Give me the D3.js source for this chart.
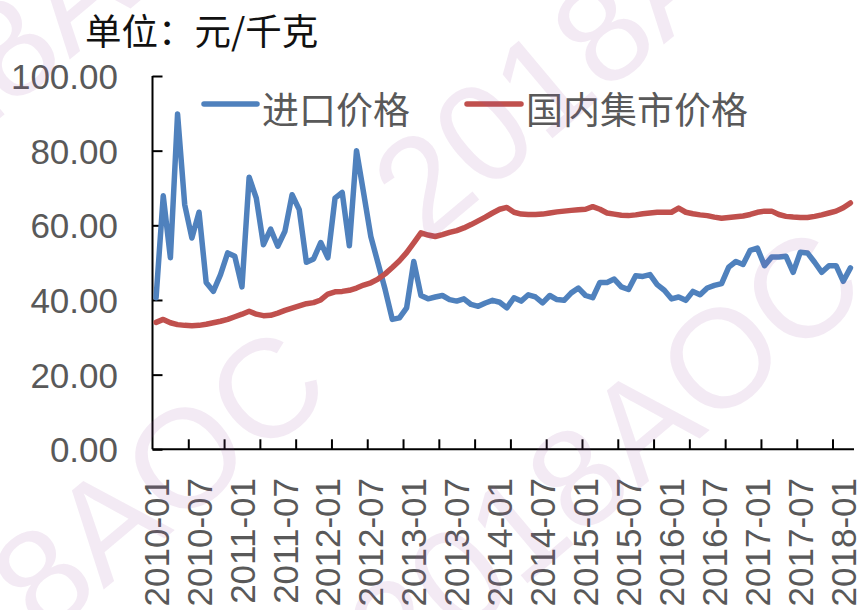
<!DOCTYPE html>
<html>
<head>
<meta charset="utf-8">
<script src="https://cdn.jsdelivr.net/npm/d3@7"></script>
<style>
  html, body { margin: 0; padding: 0; background: #fff; }
  svg { display: block; }
  text { font-family: "Liberation Sans", Arial, sans-serif; }
  .cjk { font-family: "Noto Sans CJK SC", "Noto Sans", sans-serif; }
</style>
</head>
<body>
<svg id="chart" width="861" height="610"></svg>
<script>
// month categories 2010-01 .. 2018-02
const months = d3.timeMonth.range(new Date(2010, 0, 1), new Date(2018, 2, 1)).map(d3.timeFormat("%Y-%m"));

const tickLabels = ["2010-01", "2010-07", "2011-01", "2011-07", "2012-01", "2012-07", "2013-01", "2013-07",
  "2014-01", "2014-07", "2015-01", "2015-07", "2016-01", "2016-07", "2017-01", "2017-07", "2018-01"];

const yTicks = [0, 20, 40, 60, 80, 100];

// 进口价格
const importPrice = [
  40.6, 67.9, 51.3, 89.8, 65.5, 56.6, 63.5, 44.7, 42.3, 46.8, 52.6, 51.7,
  43.5, 72.9, 67.3, 54.8, 59.0, 54.4, 58.4, 68.2, 64.2, 50.1, 51.0, 55.4,
  51.3, 67.3, 68.8, 54.5, 80.0, 68.6, 57.0, 49.9, 42.8, 34.8, 35.2, 37.9,
  50.3, 41.2, 40.3, 40.8, 41.2, 40.1, 39.7, 40.3, 38.8, 38.3, 39.2, 39.9,
  39.4, 37.9, 40.6, 39.7, 41.4, 40.8, 39.2, 41.2, 40.1, 39.9, 41.9, 43.2,
  41.2, 40.6, 44.7, 44.7, 45.6, 43.5, 42.8, 46.5, 46.3, 46.8, 44.1, 42.6,
  40.3, 40.8, 39.9, 42.3, 41.4, 43.2, 43.9, 44.4, 48.8, 50.3, 49.5, 53.3,
  53.9, 49.2, 51.5, 51.5, 51.7, 47.4, 52.8, 52.6, 50.1, 47.4, 49.2, 49.2,
  45.0, 48.6
];

// 国内集市价格
const domesticPrice = [
  34.0, 34.8, 33.9, 33.4, 33.2, 33.1, 33.2, 33.5, 33.9, 34.3, 34.8, 35.5,
  36.2, 37.0, 36.2, 35.8, 35.9, 36.5, 37.2, 37.8, 38.4, 39.0, 39.3, 40.0,
  41.6, 42.2, 42.3, 42.6, 43.2, 44.0, 44.6, 45.6, 47.0, 48.7, 50.5, 52.7,
  55.3, 58.0, 57.4, 57.0, 57.5, 58.1, 58.6, 59.3, 60.2, 61.2, 62.2, 63.3,
  64.3, 64.8, 63.5, 63.0, 62.9, 62.9, 63.0, 63.3, 63.6, 63.8, 64.0, 64.2,
  64.3, 65.0, 64.3, 63.3, 63.0, 62.7, 62.6, 62.8, 63.1, 63.3, 63.5, 63.5,
  63.5, 64.6, 63.5, 63.1, 62.8, 62.6, 62.2, 61.9, 62.1, 62.3, 62.5, 62.9,
  63.5, 63.8, 63.8, 62.9, 62.4, 62.2, 62.1, 62.1, 62.4, 62.8, 63.3, 63.8,
  64.7, 66.0
];

const seriesNames = ["进口价格", "国内集市价格"];
const seriesColors = ["#4F81BD", "#C0504D"];

const svg = d3.select("#chart");

const plotLeft = 152.5, plotRight = 854, plotTop = 76, plotBottom = 449.3;

const x = d3.scaleBand().domain(months).range([plotLeft, plotRight]).padding(0);
const xIdx = d3.scaleLinear().domain([0, months.length]).range([plotLeft, plotRight]);
const y = d3.scaleLinear().domain([0, 100]).range([plotBottom, plotTop]);

// title
svg.append("text")
  .attr("class", "cjk")
  .attr("x", 85)
  .attr("y", 45)
  .attr("font-size", 36.5)
  .attr("fill", "#111")
  .text("单位：元/千克");

// y axis
const yAxis = svg.append("g")
  .attr("transform", `translate(${plotLeft},0)`)
  .call(d3.axisLeft(y).tickValues(yTicks).tickSize(-10).tickPadding(34.5)
    .tickFormat(d3.format(".2f")));
yAxis.select(".domain").attr("stroke", "#000").attr("stroke-width", 2).attr("d", `M0,${plotTop}V${plotBottom}`);
yAxis.selectAll(".tick line").attr("stroke", "#000").attr("stroke-width", 2);
yAxis.selectAll(".tick text")
  .attr("font-size", 35)
  .attr("fill", "#595959")
  .attr("font-family", "Liberation Sans, Arial, sans-serif")
  .attr("dy", "0.36em");

// x axis: ticks every 5 months on category boundaries
const xAxis = svg.append("g")
  .attr("transform", `translate(0,${plotBottom})`)
  .call(d3.axisBottom(xIdx).tickValues(d3.range(5, months.length, 5)).tickSize(-10).tickFormat(""));
xAxis.select(".domain").attr("stroke", "#000").attr("stroke-width", 2).attr("d", `M${plotLeft},0H${plotRight}`);
xAxis.selectAll(".tick line").attr("stroke", "#000").attr("stroke-width", 2);

// x labels, rotated
svg.append("g").selectAll("text")
  .data(tickLabels)
  .join("text")
  .attr("transform", d => `translate(${x(d) + x.bandwidth() / 2},478) rotate(-90)`)
  .attr("text-anchor", "end")
  .attr("dy", "0.36em")
  .attr("font-size", 35)
  .attr("fill", "#595959")
  .text(d => d);

// lines
const line = d3.line()
  .x((d, i) => x(months[i]) + x.bandwidth() / 2)
  .y(d => y(d));

[importPrice, domesticPrice].forEach((vals, k) => {
  svg.append("path")
    .datum(vals)
    .attr("fill", "none")
    .attr("stroke", seriesColors[k])
    .attr("stroke-width", 5.5)
    .attr("stroke-linejoin", "round")
    .attr("stroke-linecap", "round")
    .attr("d", line);
});

// legend
const legendPos = [{ x1: 204, x2: 257, tx: 262 }, { x1: 467, x2: 521, tx: 526 }];
legendPos.forEach((p, k) => {
  svg.append("line")
    .attr("x1", p.x1).attr("x2", p.x2)
    .attr("y1", 104).attr("y2", 104)
    .attr("stroke", seriesColors[k])
    .attr("stroke-width", 5.5)
    .attr("stroke-linecap", "round");
  svg.append("text")
    .attr("class", "cjk")
    .attr("x", p.tx)
    .attr("y", 124)
    .attr("font-size", 37)
    .attr("fill", "#595959")
    .text(seriesNames[k]);
});

// watermark
const marks = [[-169, 260], [-135, 790], [425, 245], [400, 690]];
svg.append("g").attr("pointer-events", "none").selectAll("text")
  .data(marks)
  .join("text")
  .attr("transform", d => `translate(${d[0]},${d[1]}) rotate(-40)`)
  .attr("font-size", 140)
  .attr("fill", "#9c4fa8")
  .attr("fill-opacity", 0.12)
  .text("2018AOC");
</script>
</body>
</html>
